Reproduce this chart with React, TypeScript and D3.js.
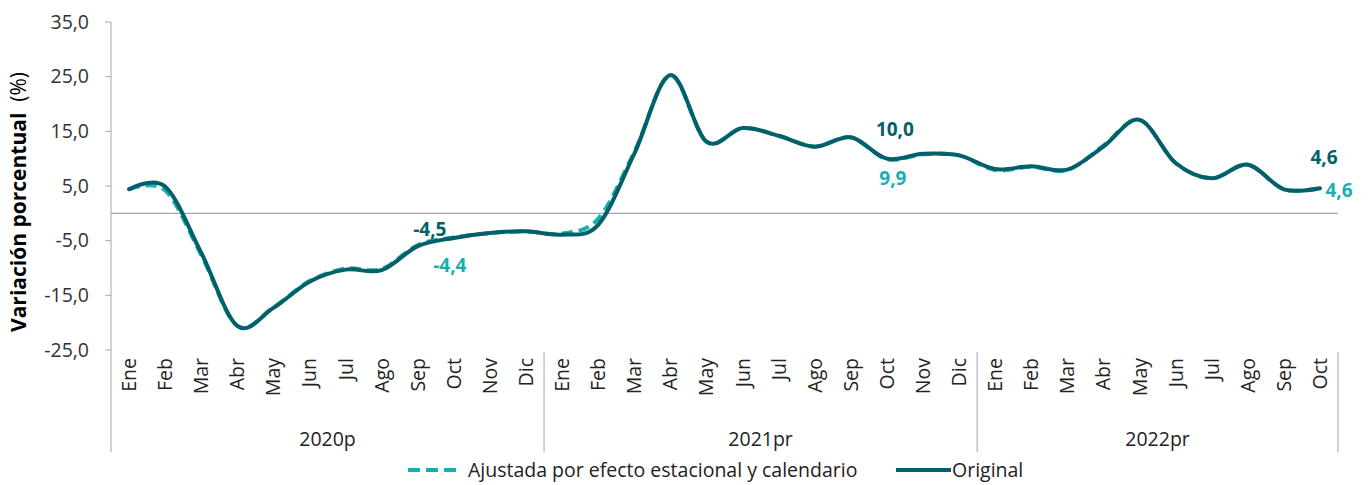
import React from "react";
import * as d3 from "d3";

const months = ["Ene","Feb","Mar","Abr","May","Jun","Jul","Ago","Sep","Oct","Nov","Dic"];
const years = ["2020p", "2021pr", "2022pr"];
const monthsPerYear = [12, 12, 10];

const original = [
  4.4, 4.9, -7.2, -20.6, -17.3, -12.5, -10.3, -10.4, -6.0, -4.5, -3.6, -3.3,
  -3.9, -2.1, 10.9, 25.3, 13.1, 15.6, 14.2, 12.2, 13.9, 10.0, 10.9, 10.6,
  8.1, 8.6, 8.0, 12.2, 17.1, 9.2, 6.4, 8.9, 4.4, 4.6,
];
const adjusted = [
  4.4, 4.2, -7.6, -20.6, -17.2, -12.4, -10.1, -10.2, -5.8, -4.4, -3.6, -3.3,
  -3.7, -1.0, 11.2, 25.2, 13.1, 15.6, 14.2, 12.2, 13.9, 9.9, 10.8, 10.6,
  7.9, 8.5, 7.9, 12.4, 17.1, 9.2, 6.4, 8.9, 4.4, 4.6,
];
const yTicks = [-25, -15, -5, 5, 15, 25, 35];

const DARK = "#03606A";
const LIGHT = "#17AFAF";
const GRID = "#A6A6A6";
const FONT = "'Open Sans', 'Noto Sans', sans-serif";

export default function App() {
  const W = 1369, H = 485;
  const left = 111, right = 1338, top = 22, bottom = 350;
  const n = original.length;
  const x = d3.scaleBand<number>().domain(d3.range(n)).range([left, right]);
  const y = d3.scaleLinear().domain([-25, 35]).range([bottom, top]);
  const cx = (i: number) => (x(i) as number) + x.bandwidth() / 2;
  const line = d3.line<number>().x((_, i) => cx(i)).y((d) => y(d)).curve(d3.curveCardinal.tension(0));
  const fmt = (v: number) => v.toFixed(1).replace(".", ",");

  const labels: string[] = [];
  monthsPerYear.forEach((c) => { for (let k = 0; k < c; k++) labels.push(months[k]); });
  const bounds: number[] = [0];
  monthsPerYear.forEach((c, i) => bounds.push(bounds[i] + c));
  const bx = (k: number) => (k >= n ? right : (x(k) as number));

  const oct20 = 9, oct21 = 21, oct22 = 33;
  const FS = 19.5;

  return (
    <svg width={W} height={H} style={{ position: "absolute", left: 0, top: 0, background: "#fff" }} fontFamily={FONT}>
      {/* y axis */}
      <line x1={left} x2={left} y1={top} y2={452} stroke={GRID} strokeWidth={1} />
      {yTicks.map((t) => (
        <g key={t}>
          <line x1={left - 6} x2={left} y1={y(t)} y2={y(t)} stroke={GRID} />
          <text x={89} y={y(t)} dy="0.35em" textAnchor="end" fontSize={FS} fill="#333">{fmt(t)}</text>
        </g>
      ))}
      <text transform={`translate(26,${(top + bottom) / 2 + 16}) rotate(-90)`} textAnchor="middle" fontSize={21} fill="#000">
        <tspan fontWeight="bold">Variación porcentual</tspan>
        <tspan>{"\u00a0 (%)"}</tspan>
      </text>
      {/* zero line */}
      <line x1={left} x2={right} y1={y(0)} y2={y(0)} stroke={GRID} strokeWidth={1.2} />
      {/* category labels */}
      {labels.map((m, i) => (
        <text key={i} transform={`translate(${cx(i) + 7},358) rotate(-90)`} textAnchor="end" fontSize={FS} fill="#222">{m}</text>
      ))}
      {bounds.slice(1).map((b, i) => (
        <line key={i} x1={bx(b)} x2={bx(b)} y1={bottom + 2} y2={452} stroke={GRID} />
      ))}
      {years.map((yr, i) => (
        <text key={yr} x={(bx(bounds[i]) + bx(bounds[i + 1])) / 2} y={446} textAnchor="middle" fontSize={FS} fill="#222">{yr}</text>
      ))}
      {/* lines */}
      <path d={line(adjusted) || ""} fill="none" stroke={LIGHT} strokeWidth={4} strokeDasharray="11,6" />
      <path d={line(original) || ""} fill="none" stroke={DARK} strokeWidth={4} strokeLinecap="round" />
      {/* annotations */}
      <text x={cx(oct20) - 24} y={236} textAnchor="middle" fontSize={19} fontWeight="bold" fill={DARK}>{fmt(original[oct20])}</text>
      <text x={cx(oct20) - 4} y={272} textAnchor="middle" fontSize={19} fontWeight="bold" fill={LIGHT}>{fmt(adjusted[oct20])}</text>
      <text x={cx(oct21) + 8} y={136} textAnchor="middle" fontSize={19} fontWeight="bold" fill={DARK}>{fmt(original[oct21])}</text>
      <text x={cx(oct21) + 6} y={185} textAnchor="middle" fontSize={19} fontWeight="bold" fill={LIGHT}>{fmt(adjusted[oct21])}</text>
      <text x={cx(oct22) + 4} y={164} textAnchor="middle" fontSize={19} fontWeight="bold" fill={DARK}>{fmt(original[oct22])}</text>
      <text x={cx(oct22) + 19} y={197} textAnchor="middle" fontSize={19} fontWeight="bold" fill={LIGHT}>{fmt(adjusted[oct22])}</text>
      {/* legend */}
      <line x1={408} x2={460} y1={470} y2={470} stroke={LIGHT} strokeWidth={4} strokeDasharray="12,6" />
      <text x={468} y={470} dy="0.35em" fontSize={FS} fill="#222">Ajustada por efecto estacional y calendario</text>
      <line x1={896} x2={951} y1={470} y2={470} stroke={DARK} strokeWidth={4} />
      <text x={952} y={470} dy="0.35em" fontSize={FS} fill="#222">Original</text>
    </svg>
  );
}
